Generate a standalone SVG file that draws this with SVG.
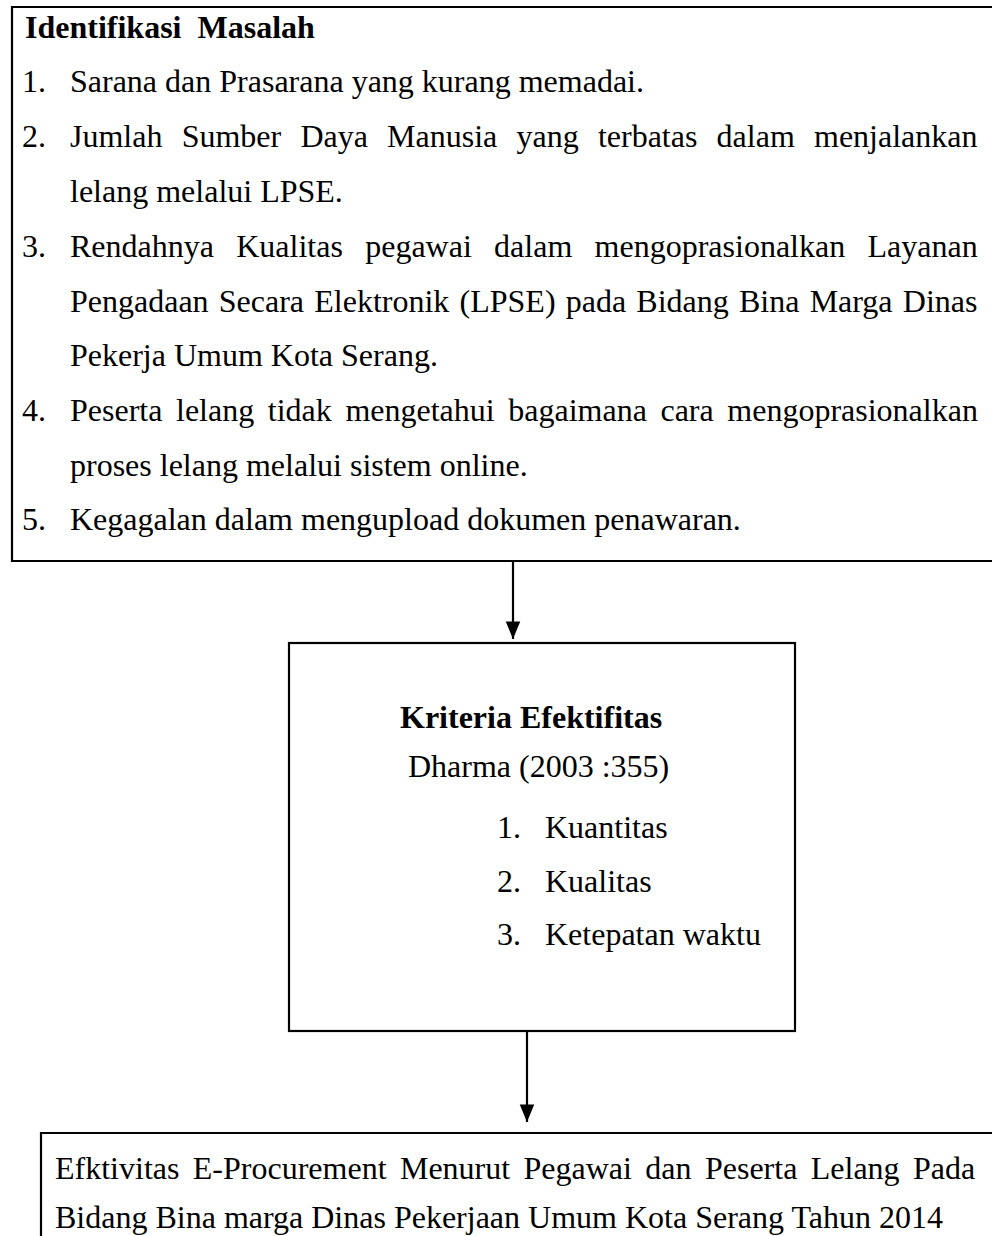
<svg xmlns="http://www.w3.org/2000/svg" width="992" height="1236" viewBox="0 0 992 1236">
<style>
text{font-family:"Liberation Serif","Times New Roman",serif;font-size:32px;fill:#000}
.b{font-weight:bold}
.box{fill:none;stroke:#000;stroke-width:2.2}
.con{stroke:#000;stroke-width:2.2;fill:none}
</style>
<defs>
<marker id="ah" markerWidth="9" markerHeight="9" refX="8" refY="4" orient="auto" markerUnits="strokeWidth">
<path d="M0,0.7 L8,4 L0,7.3 Z" fill="#000"/>
</marker>
</defs>
<rect width="992" height="1236" fill="#fff"/>
<g id="identifikasi">
<path class="box" d="M995,7 H12 V561 H995"/>
<text class="b" x="25" y="37.5" xml:space="preserve">Identifikasi  Masalah</text>
<text x="22" y="92">1.</text><text x="70" y="92">Sarana dan Prasarana yang kurang memadai.</text>
<text x="22" y="147">2.</text><text x="70" y="147" word-spacing="11.2">Jumlah Sumber Daya Manusia yang terbatas dalam menjalankan</text>
<text x="70" y="202">lelang melalui LPSE.</text>
<text x="22" y="256.5">3.</text><text x="70" y="256.5" word-spacing="14.3">Rendahnya Kualitas pegawai dalam mengoprasionalkan Layanan</text>
<text x="70" y="311.5" word-spacing="2.2">Pengadaan Secara Elektronik (LPSE) pada Bidang Bina Marga Dinas</text>
<text x="70" y="366">Pekerja Umum Kota Serang.</text>
<text x="22" y="421">4.</text><text x="70" y="421" word-spacing="5.6">Peserta lelang tidak mengetahui bagaimana cara mengoprasionalkan</text>
<text x="70" y="475.5">proses lelang melalui sistem online.</text>
<text x="22" y="530">5.</text><text x="70" y="530">Kegagalan dalam mengupload dokumen penawaran.</text>
</g>
<g id="kriteria">
<rect class="box" x="289" y="643" width="506" height="388"/>
<text class="b" x="400" y="728">Kriteria Efektifitas</text>
<text x="408" y="777">Dharma (2003 :355)</text>
<text x="497" y="838">1.</text><text x="545" y="838">Kuantitas</text>
<text x="497" y="892">2.</text><text x="545" y="892">Kualitas</text>
<text x="497" y="945">3.</text><text x="545" y="945">Ketepatan waktu</text>
</g>
<g id="efektivitas">
<path class="box" d="M995,1133 H41 V1240"/>
<text x="55" y="1179" word-spacing="5.4">Efktivitas E-Procurement Menurut Pegawai dan Peserta Lelang Pada</text>
<text x="55" y="1228">Bidang Bina marga Dinas Pekerjaan Umum Kota Serang Tahun 2014</text>
</g>
<g id="connectors">
<line class="con" x1="513" y1="561" x2="513" y2="639" marker-end="url(#ah)"/>
<line class="con" x1="527" y1="1031" x2="527" y2="1122" marker-end="url(#ah)"/>
</g>
</svg>
